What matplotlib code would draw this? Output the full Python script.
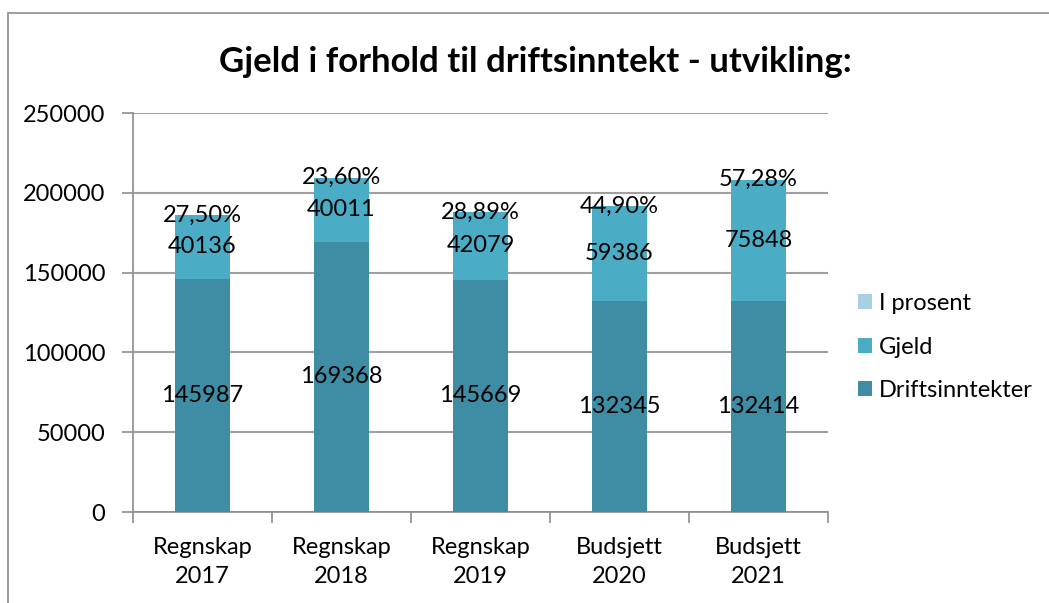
import matplotlib.pyplot as plt
from matplotlib.patches import Rectangle

plt.rcParams['font.family'] = ['Lato', 'DejaVu Sans']

categories = ["Regnskap\n2017", "Regnskap\n2018", "Regnskap\n2019", "Budsjett\n2020", "Budsjett\n2021"]
driftsinntekter = [145987, 169368, 145669, 132345, 132414]
gjeld = [40136, 40011, 42079, 59386, 75848]
i_prosent = [0.2750, 0.2360, 0.2889, 0.4490, 0.5728]

col_drift = "#3E8DA5"
col_gjeld = "#4BACC6"
col_pros = "#A8D0DE"

fig = plt.figure(figsize=(10.49, 6.03), dpi=100)
ax = fig.add_axes([0.1268, 0.1509, 0.6625, 0.6617])

# ramme rundt diagrammet
fig.patches.append(Rectangle((8 / 1049, -0.1), 1.2, 1 - 13 / 603 + 0.1,
                             transform=fig.transFigure, fill=False,
                             edgecolor="#8C8C8C", linewidth=1.2))

x = range(len(categories))
w = 0.4
b1 = ax.bar(x, driftsinntekter, w, color=col_drift, label="Driftsinntekter", zorder=3)
b2 = ax.bar(x, gjeld, w, bottom=driftsinntekter, color=col_gjeld, label="Gjeld", zorder=3)
bottom3 = [d + g for d, g in zip(driftsinntekter, gjeld)]
b3 = ax.bar(x, i_prosent, w, bottom=bottom3, color=col_pros, label="I prosent", zorder=3)

fs = 17
for i in x:
    ax.text(i, driftsinntekter[i] / 2, f"{driftsinntekter[i]}", ha="center", va="center", fontsize=fs, zorder=4)
    ax.text(i, driftsinntekter[i] + gjeld[i] / 2, f"{gjeld[i]}", ha="center", va="center", fontsize=fs, zorder=4)
    pct = f"{i_prosent[i] * 100:.2f}%".replace(".", ",")
    ax.text(i, bottom3[i] + i_prosent[i] / 2, pct, ha="center", va="center", fontsize=fs, zorder=4)

ax.set_xlim(-0.5, len(categories) - 0.5)
ax.set_ylim(0, 250000)
ax.set_yticks(range(0, 250001, 50000))
ax.tick_params(axis="y", labelsize=fs, length=8, width=1.2, color="#8C8C8C", pad=12)
ax.set_xticks(list(x))
ax.set_xticklabels(categories, fontsize=fs, linespacing=1.45)
ax.set_xticks([i - 0.5 for i in range(len(categories) + 1)], minor=True)
ax.tick_params(axis="x", which="major", length=0, pad=18)
ax.tick_params(axis="x", which="minor", length=8, width=1.2, color="#8C8C8C")

ax.grid(axis="y", color="#A0A0A0", linewidth=1.5, zorder=0)
for s in ["top", "right"]:
    ax.spines[s].set_visible(False)
for s in ["left", "bottom"]:
    ax.spines[s].set_color("#8C8C8C")
    ax.spines[s].set_linewidth(1.2)

fig.text(0.51, 1 - 62 / 603, "Gjeld i forhold til driftsinntekt - utvikling:",
         fontsize=25, fontweight="bold", ha="center", va="center")

handles = [b3, b2, b1]
ax.legend(handles, [h.get_label() for h in handles], loc="center left",
          bbox_to_anchor=(1.043, 0.4135), frameon=False, fontsize=17,
          handlelength=0.6, handleheight=0.6, handletextpad=0.3,
          labelspacing=0.95, borderaxespad=0, borderpad=0)

fig.savefig("out.png", dpi=100)
